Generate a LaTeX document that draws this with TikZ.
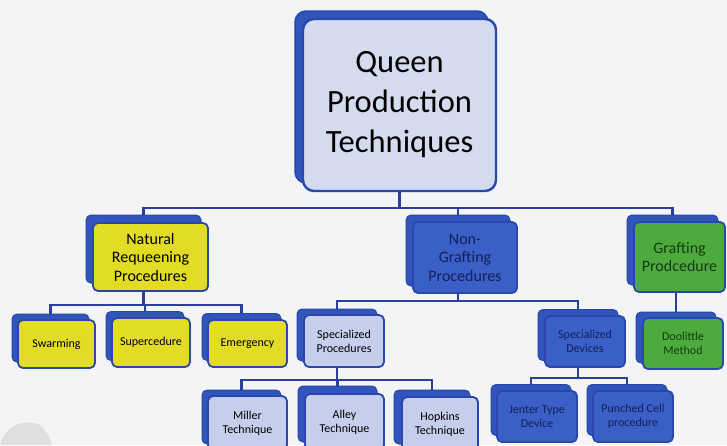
\documentclass[tikz,border=0pt]{standalone}
\usepackage{fontspec}
\setmainfont{Carlito}
\definecolor{bgc}{HTML}{F3F4F5}
\definecolor{linec}{HTML}{2B3F9C}
\definecolor{backc}{HTML}{3155BC}
\definecolor{backd}{HTML}{2647A8}
\definecolor{bordc}{HTML}{2A47AC}
\definecolor{yel}{HTML}{E3DC24}
\definecolor{grn}{HTML}{4DAA3C}
\definecolor{lav}{HTML}{C5CEEB}
\definecolor{rootc}{HTML}{D5DBEE}
\definecolor{dblue}{HTML}{3A5FC6}
\definecolor{navytxt}{HTML}{14205A}
\definecolor{grntxt}{HTML}{173A12}
\begin{document}
\begin{tikzpicture}[x=1pt,y=-1pt,
  back/.style={draw=backd, fill=backc, line width=1pt, rounded corners=5pt, inner sep=0pt},
  front/.style={draw=bordc, line width=1.8pt, rounded corners=5pt, align=center, inner sep=1pt},
  lvA/.style={font=\fontsize{16}{18.5}\selectfont},
  lvB/.style={font=\fontsize{12}{14}\selectfont},
  conn/.style={draw=linec, line width=2.2pt}]
\useasboundingbox (0,0) rectangle (727,445);
\fill[bgc] (0,0) rectangle (727,445);
\fill[gray!25] (0,445) .. controls (5,425) and (25,418) .. (40,425) .. controls (48,432) and (50,440) .. (52,445) -- cycle;

% root
\node[back, line width=1.5pt, rounded corners=11pt, minimum width=193pt, minimum height=172pt] (rootb) at (391.5,97) {};
\node[front, fill=rootc, line width=2.4pt, rounded corners=11pt, minimum width=193pt, minimum height=172pt,
  font=\fontsize{32.5}{40}\selectfont] (root) at (399.5,105) {Queen\\Production\\Techniques};

% level 1
\node[back, minimum width=115pt, minimum height=68pt] (natb) at (143.5,249) {};
\node[front, fill=yel, lvA, minimum width=115pt, minimum height=68pt] (nat) at (150.5,257) {Natural\\Requeening\\Procedures};

\node[back, minimum width=104pt, minimum height=71pt] (ngb) at (458,250.5) {};
\node[front, fill=dblue, lvA, text=navytxt, minimum width=104pt, minimum height=71pt] (ng) at (465,257.5) {Non-\\Grafting\\Procedures};

\node[back, minimum width=91pt, minimum height=70pt] (grb) at (672.5,250) {};
\node[front, fill=grn, lvA, text=grntxt, minimum width=91pt, minimum height=70pt] (gr) at (679.5,257) {Grafting\\Prodcedure};

% level 2
\node[back, minimum width=77pt, minimum height=48pt] (swb) at (50.5,338) {};
\node[front, fill=yel, lvB, minimum width=77pt, minimum height=48pt] (sw) at (56.5,344) {Swarming};

\node[back, minimum width=78pt, minimum height=49pt] (spb) at (145,336) {};
\node[front, fill=yel, lvB, minimum width=78pt, minimum height=49pt] (sp) at (151,342.5) {Supercedure};

\node[back, minimum width=79pt, minimum height=47pt] (emb) at (241.5,337) {};
\node[front, fill=yel, lvB, minimum width=79pt, minimum height=47pt] (em) at (247.5,343.5) {Emergency};

\node[back, minimum width=80pt, minimum height=52pt] (sprb) at (337,335) {};
\node[front, fill=lav, lvB, minimum width=80pt, minimum height=52pt] (spr) at (344,341) {Specialized\\Procedures};

\node[back, minimum width=80pt, minimum height=51pt] (sdvb) at (578,335) {};
\node[front, fill=dblue, lvB, text=navytxt, minimum width=80pt, minimum height=51pt] (sdv) at (585,341.5) {Specialized\\Devices};

\node[back, minimum width=80pt, minimum height=51pt] (doob) at (676,337.5) {};
\node[front, fill=grn, lvB, text=grntxt, minimum width=80pt, minimum height=51pt] (doo) at (683,343.5) {Doolittle\\Method};

% level 3
\node[back, minimum width=79pt, minimum height=54pt] (milb) at (241.5,417) {};
\node[front, fill=lav, lvB, minimum width=79pt, minimum height=54pt] (mil) at (247.5,423) {Miller\\Technique};

\node[back, minimum width=79pt, minimum height=56pt] (allb) at (337.5,414) {};
\node[front, fill=lav, lvB, minimum width=79pt, minimum height=56pt] (all) at (344.5,422) {Alley\\Technique};

\node[back, minimum width=76pt, minimum height=54pt] (hopb) at (432,417) {};
\node[front, fill=lav, lvB, minimum width=76pt, minimum height=54pt] (hop) at (440,424) {Hopkins\\Technique};

\node[back, minimum width=80pt, minimum height=51pt] (jenb) at (531,410) {};
\node[front, fill=dblue, lvB, text=navytxt, minimum width=80pt, minimum height=51pt] (jen) at (537,416.5) {Jenter Type\\Device};

\node[back, minimum width=80pt, minimum height=51pt] (punb) at (627,410) {};
\node[front, fill=dblue, lvB, text=navytxt, minimum width=80pt, minimum height=51pt] (pun) at (633,416.5) {Punched Cell\\procedure};

% connectors
\draw[conn] (root.south) -- ++(0,16) -| (natb.north);
\draw[conn] (root.south) -- ++(0,16) -| (ngb.north);
\draw[conn] (root.south) -- ++(0,16) -| (grb.north);

\draw[conn] (natb.south |- nat.south) -- ++(0,13) -| (swb.north);
\draw[conn] (natb.south |- nat.south) -- ++(0,13) -| (spb.north);
\draw[conn] (natb.south |- nat.south) -- ++(0,13) -| (emb.north);

\draw[conn] (ngb.south |- ng.south) -- ++(0,7) -| (sprb.north);
\draw[conn] (ngb.south |- ng.south) -- ++(0,7) -| (sdvb.north);

\draw[conn] (doob.north |- gr.south) -- (doob.north);

\draw[conn] (sprb.south |- spr.south) -- ++(0,12) -| (milb.north);
\draw[conn] (sprb.south |- spr.south) -- ++(0,12) -| (allb.north);
\draw[conn] (sprb.south |- spr.south) -- ++(0,12) -| (hopb.north);

\draw[conn] (sdvb.south |- sdv.south) -- ++(0,10) -| (jenb.north);
\draw[conn] (sdvb.south |- sdv.south) -- ++(0,10) -| (punb.north);
\end{tikzpicture}
\end{document}
